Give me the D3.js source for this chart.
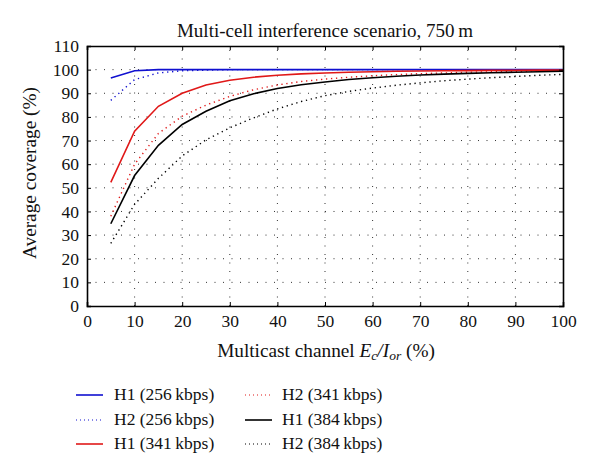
<!DOCTYPE html>
<html><head><meta charset="utf-8">
<script src="https://cdn.jsdelivr.net/npm/d3@7"></script>
<style>body{margin:0;background:#fff}svg{display:block}text{font-family:"Liberation Serif","DejaVu Serif",serif;fill:#111}</style>
</head><body><div id="chart"></div>
<script>
const xValues = [5,10,15,20,25,30,35,40,45,50,55,60,65,70,75,80,85,90,95,100];
const h1_256 = [96.5,99.5,100,100,100,100,100,100,100,100,100,100,100,100,100,100,100,100,100,100];
const h2_256 = [87,95.8,98.6,99.5,99.8,100,100,100,100,100,100,100,100,100,100,100,100,100,100,100];
const h1_341 = [52.3,74,84.5,90,93.5,95.5,96.8,97.6,98.2,98.6,98.9,99.1,99.3,99.4,99.5,99.6,99.7,99.7,99.8,99.8];
const h2_341 = [38,60,73,80.3,85,88.7,91.5,93.5,95,96,96.8,97.4,97.9,98.3,98.6,98.9,99.1,99.3,99.4,99.5];
const h1_384 = [34.8,55.2,68,76.8,82.4,86.8,89.8,92,93.6,94.8,95.8,96.6,97.2,97.7,98.1,98.4,98.7,98.9,99.1,99.3];
const h2_384 = [26.5,43,54,63.5,70.3,75.4,79.6,83.4,86.5,89,90.8,92.2,93.4,94.4,95.3,96,96.6,97.1,97.6,98];
const seriesNames = ["H1 (256\u2009kbps)","H2 (256\u2009kbps)","H1 (341\u2009kbps)","H2 (341\u2009kbps)","H1 (384\u2009kbps)","H2 (384\u2009kbps)"];
const xTicks = [0,10,20,30,40,50,60,70,80,90,100];
const yTicks = [0,10,20,30,40,50,60,70,80,90,100,110];
const titleText = "Multi-cell interference scenario, 750\u2009m";
const yLabel = "Average coverage (%)";

const series = [
  {name:seriesNames[0], values:h1_256, color:"#1010d0", dotted:false},
  {name:seriesNames[1], values:h2_256, color:"#1010d0", dotted:true},
  {name:seriesNames[2], values:h1_341, color:"#e01818", dotted:false},
  {name:seriesNames[3], values:h2_341, color:"#e01818", dotted:true},
  {name:seriesNames[4], values:h1_384, color:"#000000", dotted:false},
  {name:seriesNames[5], values:h2_384, color:"#000000", dotted:true}
];

const W=600,H=475;
const m={left:87,right:563,top:46,bottom:306};
const svg=d3.select("#chart").append("svg").attr("width",W).attr("height",H);
const x=d3.scaleLinear().domain([0,100]).range([m.left,m.right]);
const y=d3.scaleLinear().domain([0,110]).range([m.bottom,m.top]);

// grid
const g=svg.append("g");
g.selectAll(".gx").data(xTicks.filter(t=>t>0&&t<100)).join("line")
  .attr("x1",d=>x(d)).attr("x2",d=>x(d)).attr("y1",m.bottom).attr("y2",m.top)
  .attr("stroke","#333").attr("stroke-width",1).attr("stroke-dasharray","1,7.5");
g.selectAll(".gy").data(yTicks.filter(t=>t>0&&t<110)).join("line")
  .attr("y1",d=>y(d)).attr("y2",d=>y(d)).attr("x1",m.left).attr("x2",m.right)
  .attr("stroke","#333").attr("stroke-width",1).attr("stroke-dasharray","1,7.5");

// series
const line=d3.line().x((d,i)=>x(xValues[i])).y(d=>y(d));
series.forEach(s=>{
  svg.append("path").datum(s.values).attr("d",line).attr("fill","none")
    .attr("stroke",s.color).attr("stroke-width",s.dotted?1.4:1.6)
    .attr("stroke-dasharray",s.dotted?"1.3,3.7":null);
});

// axes
const ax=d3.axisBottom(x).tickValues(xTicks).tickSize(-4).tickPadding(9);
const ay=d3.axisLeft(y).tickValues(yTicks).tickSize(-4).tickPadding(8);
const axT=d3.axisTop(x).tickValues(xTicks).tickSize(-4).tickFormat("");
const ayR=d3.axisRight(y).tickValues(yTicks).tickSize(-4).tickFormat("");
function style(sel){sel.select(".domain").attr("stroke","#000").attr("stroke-width",1.6);
  sel.selectAll(".tick line").attr("stroke","#000").attr("stroke-width",1);
  sel.selectAll(".tick text").style("font-family",'"Liberation Serif",serif').style("font-size","17.5px").attr("fill","#111");}
svg.append("g").attr("transform",`translate(0,${m.bottom})`).call(ax).call(style);
svg.append("g").attr("transform",`translate(${m.left},0)`).call(ay).call(style);
svg.append("g").attr("transform",`translate(0,${m.top})`).call(axT).call(style);
svg.append("g").attr("transform",`translate(${m.right},0)`).call(ayR).call(style);

// title
svg.append("text").attr("x",325).attr("y",37).attr("text-anchor","middle")
  .style("font-size","19px").text(titleText);
// y label
svg.append("text").attr("transform","translate(36,173) rotate(-90)").attr("text-anchor","middle")
  .style("font-size","19.3px").text(yLabel);
// x label
const xl=svg.append("text").attr("x",326).attr("y",357).attr("text-anchor","middle").style("font-size","19.3px");
xl.append("tspan").text("Multicast channel ");
xl.append("tspan").style("font-style","italic").text("E");
xl.append("tspan").style("font-style","italic").style("font-size","13.5px").attr("dy",3).text("c");
xl.append("tspan").style("font-style","italic").attr("dy",-3).text("/I");
xl.append("tspan").style("font-style","italic").style("font-size","13.5px").attr("dy",3).text("or");
xl.append("tspan").attr("dy",-3).text(" (%)");

// legend
const lg=svg.append("g");
const cols=[{lx:76,tx:114},{lx:245,tx:282}];
const rows=[395,420,444];
series.forEach((s,i)=>{
  const c=cols[Math.floor(i/3)], r=rows[i%3];
  lg.append("line").attr("x1",c.lx).attr("x2",c.lx+27).attr("y1",r).attr("y2",r)
    .attr("stroke",s.color).attr("stroke-width",s.dotted?1.2:1.6)
    .attr("stroke-dasharray",s.dotted?"1,3":null);
  lg.append("text").attr("x",c.tx).attr("y",r+5).style("font-size","17.5px").text(s.name);
});
</script></body></html>
